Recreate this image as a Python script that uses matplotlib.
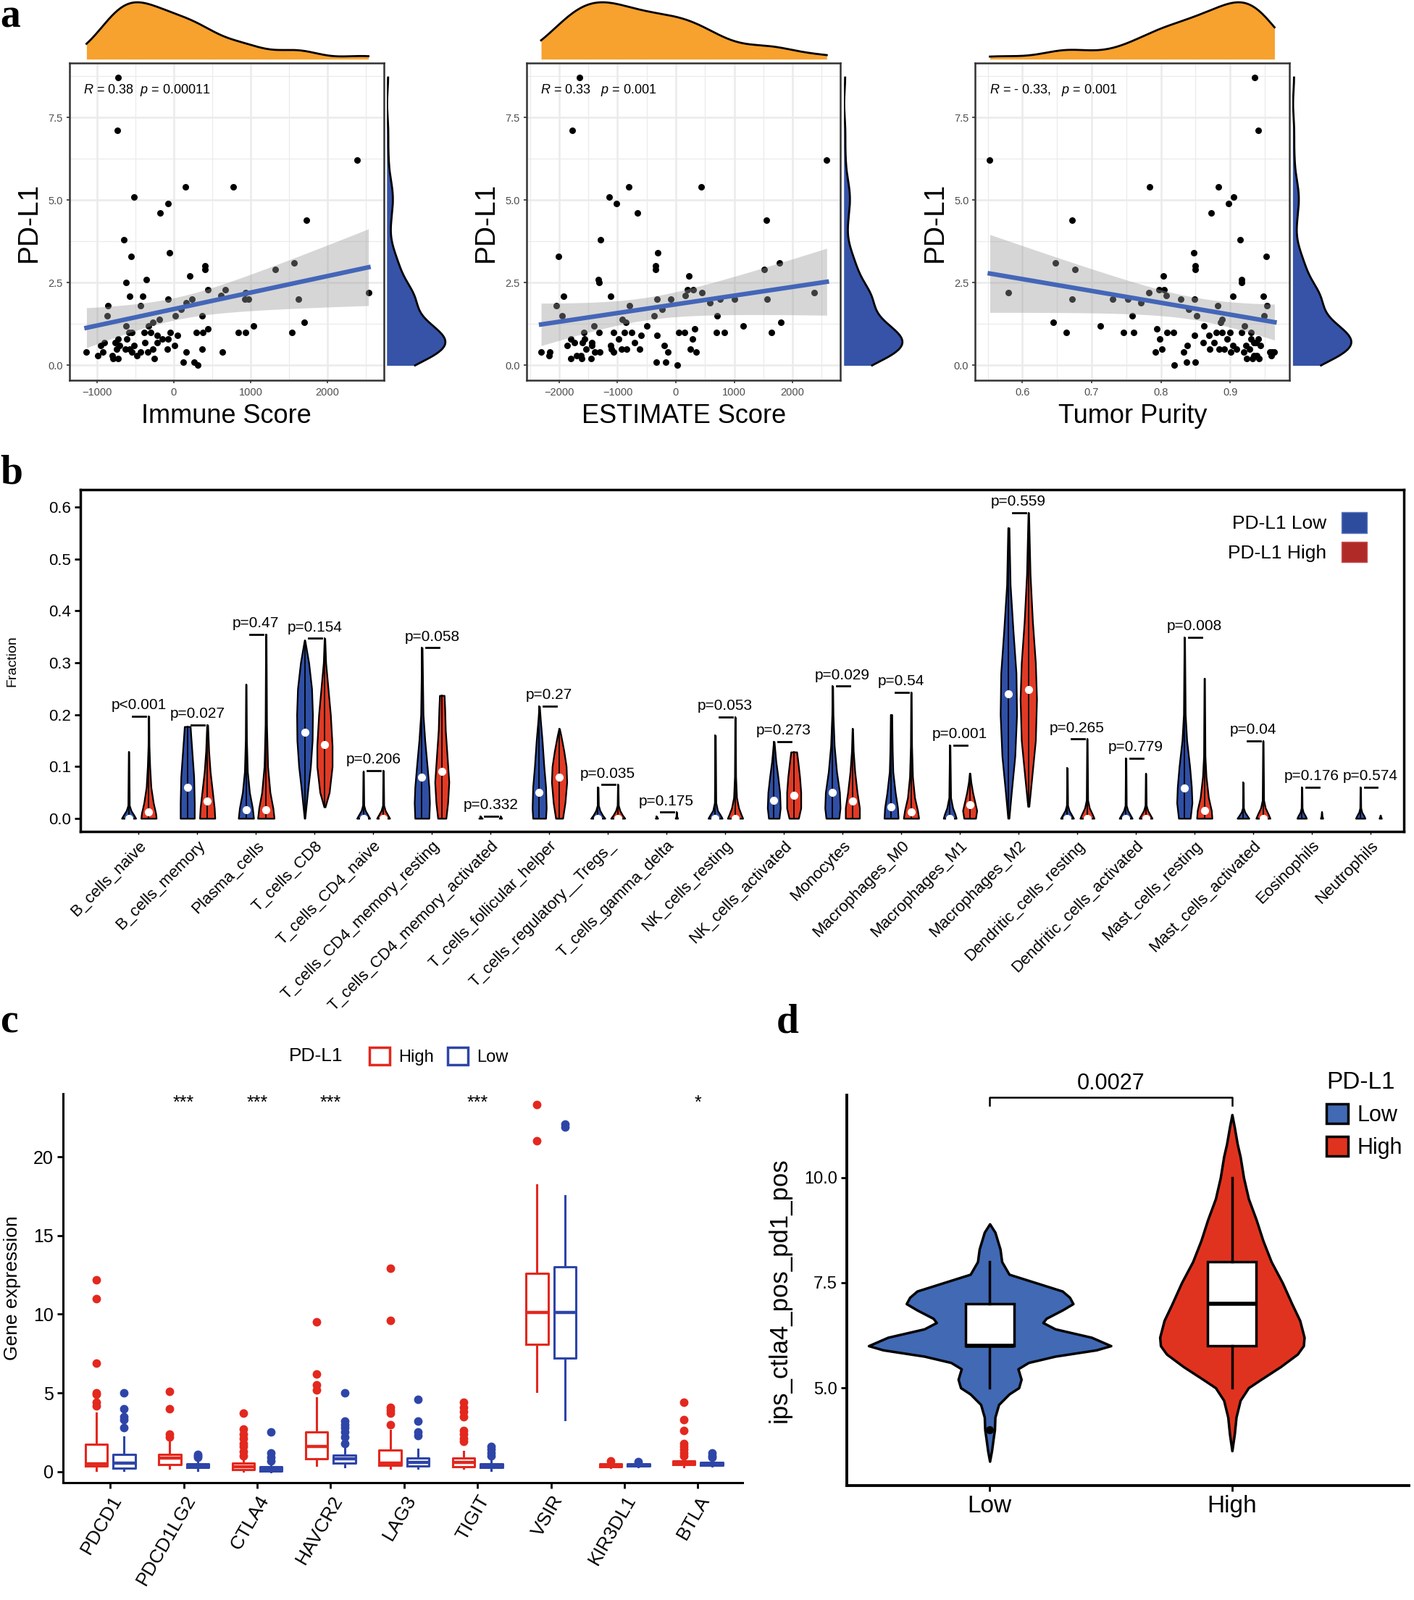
import numpy as np
import matplotlib
matplotlib.use('Agg')
import matplotlib.pyplot as plt
from matplotlib.patches import Patch

plt.rcParams['font.family'] = ['Liberation Sans', 'DejaVu Sans']
plt.rcParams['mathtext.fontset'] = 'custom'
plt.rcParams['mathtext.it'] = 'Liberation Sans:italic'
plt.rcParams['mathtext.rm'] = 'Liberation Sans'

# ---------------- panel a : PD-L1 vs ESTIMATE scores ----------------
pdl1 = [8.71, 7.11, 6.21, 5.40, 5.40, 5.10, 4.90, 4.61, 4.40, 3.80,
        3.30, 3.40, 3.10, 2.90, 3.01, 2.90, 2.70, 2.50, 2.60, 2.30,
        2.30, 2.10, 2.10, 2.12, 2.00, 2.00, 2.20, 2.00, 2.00, 2.00,
        2.20, 1.80, 1.80, 1.90, 1.50, 1.50, 1.50, 1.70, 1.39, 1.30,
        1.20, 1.20, 1.20, 1.30, 1.00, 1.00, 1.00, 1.00, 1.00, 1.10,
        1.00, 1.00, 1.00, 1.00, 1.00, 0.90, 0.90, 0.80, 0.80, 0.80,
        0.80, 0.70, 0.70, 0.70, 0.70, 0.60, 0.60, 0.60, 0.60, 0.50,
        0.50, 0.50, 0.50, 0.50, 0.50, 0.40, 0.40, 0.40, 0.40, 0.40,
        0.40, 0.40, 0.30, 0.30, 0.30, 0.20, 0.20, 0.20, 0.10, 0.10, 0.00]
immune_score = [-726, -730, 2386, 154, 776, -514, -73, -181, 1730, -653,
                -552, -58, 1564, 1320, 402, 402, 209, -625, -359, 444,
                668, -571, -405, 614, -77, 236, 938, 927, 973, 1622,
                2533, -857, -429, 162, -869, 19, 367, 97, -185, -274,
                -328, -618, 1035, 1699, 1533, 838, 931, 297, 382, 440,
                -50, -386, -297, -583, -544, -220, 46, -154, -73, -614,
                -722, -212, -371, -761, -907, -946, -703, 12, -514, -85,
                -270, 367, -633, -575, -741, -541, -429, -336, -919, -1135,
                166, 629, -985, -799, -479, -792, -726, -255, 124, 263, 309]
estimate_score = [-1645, -1779, 2587, -801, 435, -1140, -1022, -656, 1552, -1290,
                  -2010, -306, 1774, 1521, -347, -347, 224, -1320, -1331, 193,
                  296, -1928, -1115, 162, -317, -90, 445, 754, 1001, 1563,
                  2366, -2051, -790, 579, -1948, -373, 703, -234, -919, -852,
                  -1403, -502, 1160, 1799, 1635, 692, 836, 44, 147, 317,
                  -759, -1063, -883, -1320, -1573, -327, -600, -986, 286, -1562,
                  -1804, -708, -1444, -1732, -1600, -1861, -1444, -203, -1115, -615,
                  -934, 250, -1110, -847, -1537, -1300, -1393, -1063, -2309, -2155,
                  -131, 342, -2175, -1701, -1624, -1804, -1609, -1449, -337, -178, 28]
tumor_purity = [0.935, 0.941, 0.553, 0.784, 0.883, 0.905, 0.898, 0.873, 0.672, 0.914,
                0.952, 0.847, 0.648, 0.676, 0.850, 0.850, 0.803, 0.917, 0.917, 0.797,
                0.805, 0.904, 0.948, 0.808, 0.848, 0.829, 0.783, 0.752, 0.730, 0.672,
                0.580, 0.953, 0.882, 0.771, 0.949, 0.852, 0.759, 0.840, 0.888, 0.886,
                0.921, 0.862, 0.713, 0.645, 0.663, 0.746, 0.761, 0.809, 0.818, 0.794,
                0.880, 0.888, 0.900, 0.916, 0.930, 0.869, 0.848, 0.798, 0.896, 0.930,
                0.941, 0.861, 0.877, 0.937, 0.934, 0.838, 0.944, 0.904, 0.923, 0.801,
                0.870, 0.884, 0.891, 0.909, 0.928, 0.901, 0.920, 0.792, 0.833, 0.960,
                0.964, 0.957, 0.959, 0.934, 0.938, 0.924, 0.932, 0.942, 0.837, 0.850, 0.819]
score_labels = ['Immune Score', 'ESTIMATE Score', 'Tumor Purity']
cor_labels = [r'$R$ = 0.38  $p$ = 0.00011', r'$R$ = 0.33   $p$ = 0.001', r'$R$ = - 0.33,   $p$ = 0.001']

# ---------------- panel b : CIBERSORT fractions ----------------
cell_types = ['B_cells_naive', 'B_cells_memory', 'Plasma_cells', 'T_cells_CD8', 'T_cells_CD4_naive',
              'T_cells_CD4_memory_resting', 'T_cells_CD4_memory_activated', 'T_cells_follicular_helper',
              'T_cells_regulatory__Tregs_', 'T_cells_gamma_delta', 'NK_cells_resting', 'NK_cells_activated',
              'Monocytes', 'Macrophages_M0', 'Macrophages_M1', 'Macrophages_M2', 'Dendritic_cells_resting',
              'Dendritic_cells_activated', 'Mast_cells_resting', 'Mast_cells_activated', 'Eosinophils', 'Neutrophils']
p_values = ['p<0.001', 'p=0.027', 'p=0.47', 'p=0.154', 'p=0.206', 'p=0.058', 'p=0.332', 'p=0.27',
            'p=0.035', 'p=0.175', 'p=0.053', 'p=0.273', 'p=0.029', 'p=0.54', 'p=0.001', 'p=0.559',
            'p=0.265', 'p=0.779', 'p=0.008', 'p=0.04', 'p=0.176', 'p=0.574']
# violin outlines: fraction levels and half widths (category units)
low_y = [[0, 0.006, 0.015, 0.025, 0.128], [0, 0.03, 0.08, 0.12, 0.16, 0.177],
         [0, 0.02, 0.05, 0.09, 0.15, 0.258], [0, 0.05, 0.1, 0.15, 0.2, 0.25, 0.3, 0.343],
         [0, 0.006, 0.015, 0.025, 0.09], [0, 0.03, 0.06, 0.1, 0.15, 0.2, 0.329],
         [0, 0.002, 0.004], [0, 0.02, 0.06, 0.1, 0.15, 0.19, 0.216],
         [0, 0.006, 0.015, 0.025, 0.06], [0, 0.002, 0.004],
         [0, 0.006, 0.015, 0.03, 0.16], [0, 0.02, 0.05, 0.08, 0.11, 0.148],
         [0, 0.02, 0.05, 0.09, 0.14, 0.2, 0.255], [0, 0.02, 0.05, 0.09, 0.13, 0.17, 0.2],
         [0, 0.008, 0.02, 0.04, 0.141], [0, 0.05, 0.12, 0.2, 0.28, 0.36, 0.45, 0.56],
         [0, 0.006, 0.015, 0.025, 0.097], [0, 0.006, 0.015, 0.025, 0.116],
         [0, 0.03, 0.06, 0.1, 0.15, 0.2, 0.349], [0, 0.005, 0.012, 0.02, 0.069],
         [0, 0.005, 0.012, 0.02, 0.06], [0, 0.005, 0.012, 0.02, 0.06]]
low_w = [[0.12, 0.09, 0.04, 0.012, 0.004], [0.12, 0.12, 0.11, 0.085, 0.06, 0.05],
         [0.13, 0.11, 0.06, 0.025, 0.01, 0.004], [0.005, 0.05, 0.10, 0.13, 0.135, 0.12, 0.07, 0.005],
         [0.11, 0.08, 0.035, 0.01, 0.004], [0.12, 0.13, 0.12, 0.09, 0.05, 0.02, 0.004],
         [0.03, 0.01, 0.003], [0.11, 0.12, 0.11, 0.08, 0.05, 0.02, 0.004],
         [0.12, 0.08, 0.035, 0.01, 0.004], [0.02, 0.008, 0.003],
         [0.12, 0.09, 0.04, 0.012, 0.004], [0.09, 0.11, 0.1, 0.07, 0.035, 0.005],
         [0.11, 0.13, 0.12, 0.07, 0.03, 0.01, 0.004], [0.12, 0.11, 0.07, 0.03, 0.02, 0.015, 0.012],
         [0.11, 0.09, 0.05, 0.015, 0.004], [0.01, 0.05, 0.11, 0.14, 0.13, 0.08, 0.03, 0.01],
         [0.11, 0.08, 0.035, 0.01, 0.004], [0.11, 0.08, 0.035, 0.01, 0.004],
         [0.1, 0.13, 0.12, 0.09, 0.04, 0.015, 0.004], [0.1, 0.07, 0.03, 0.008, 0.004],
         [0.08, 0.06, 0.025, 0.008, 0.004], [0.08, 0.06, 0.025, 0.008, 0.004]]
high_y = [[0, 0.01, 0.03, 0.06, 0.10, 0.14, 0.197], [0, 0.02, 0.05, 0.09, 0.13, 0.18],
          [0, 0.02, 0.05, 0.1, 0.18, 0.355], [0.022, 0.05, 0.1, 0.14, 0.2, 0.25, 0.3, 0.347],
          [0, 0.006, 0.015, 0.025, 0.092], [0, 0.03, 0.07, 0.12, 0.17, 0.21, 0.237],
          [0, 0.002, 0.004], [0, 0.03, 0.07, 0.1, 0.13, 0.16, 0.173],
          [0, 0.006, 0.015, 0.025, 0.065], [0, 0.004, 0.012],
          [0, 0.008, 0.02, 0.04, 0.08, 0.195], [0, 0.02, 0.05, 0.08, 0.11, 0.128],
          [0, 0.02, 0.05, 0.09, 0.13, 0.173], [0, 0.015, 0.04, 0.08, 0.14, 0.243],
          [0, 0.015, 0.03, 0.05, 0.07, 0.087], [0.023, 0.08, 0.15, 0.23, 0.3, 0.38, 0.47, 0.589],
          [0, 0.008, 0.02, 0.035, 0.153], [0, 0.006, 0.015, 0.025, 0.086],
          [0, 0.015, 0.04, 0.08, 0.12, 0.27], [0, 0.008, 0.02, 0.035, 0.149],
          [0, 0.004, 0.012], [0, 0.003, 0.006]]
high_w = [[0.13, 0.12, 0.08, 0.04, 0.02, 0.008, 0.004], [0.13, 0.12, 0.09, 0.05, 0.025, 0.008],
          [0.14, 0.12, 0.07, 0.03, 0.012, 0.004], [0.01, 0.08, 0.13, 0.13, 0.1, 0.06, 0.02, 0.005],
          [0.11, 0.08, 0.035, 0.01, 0.004], [0.07, 0.1, 0.12, 0.09, 0.06, 0.05, 0.04],
          [0.02, 0.01, 0.003], [0.06, 0.1, 0.13, 0.12, 0.08, 0.03, 0.005],
          [0.12, 0.08, 0.035, 0.01, 0.004], [0.02, 0.006, 0.003],
          [0.13, 0.10, 0.06, 0.025, 0.01, 0.004], [0.08, 0.12, 0.12, 0.1, 0.07, 0.05],
          [0.12, 0.12, 0.08, 0.04, 0.015, 0.004], [0.13, 0.11, 0.06, 0.025, 0.01, 0.004],
          [0.1, 0.12, 0.09, 0.05, 0.02, 0.005], [0.01, 0.06, 0.12, 0.14, 0.12, 0.07, 0.03, 0.005],
          [0.12, 0.09, 0.04, 0.012, 0.004], [0.11, 0.08, 0.035, 0.01, 0.004],
          [0.13, 0.12, 0.07, 0.03, 0.012, 0.004], [0.12, 0.09, 0.04, 0.012, 0.004],
          [0.02, 0.008, 0.003], [0.02, 0.008, 0.003]]
nan = float('nan')
low_median = [0.0, 0.06, 0.017, 0.166, 0.0, 0.08, nan, 0.05, 0.0, nan, 0.0, 0.035,
              0.05, 0.022, 0.0, 0.24, 0.0, 0.0, 0.058, nan, nan, nan]
high_median = [0.013, 0.033, 0.017, 0.142, 0.0, 0.09, nan, 0.08, 0.0, nan, 0.0, 0.044,
               0.033, 0.013, 0.027, 0.248, 0.0, 0.0, 0.015, 0.0, nan, nan]

# ---------------- panel c : checkpoint genes ----------------
genes = ['PDCD1', 'PDCD1LG2', 'CTLA4', 'HAVCR2', 'LAG3', 'TIGIT', 'VSIR', 'KIR3DL1', 'BTLA']
signif = ['', '***', '***', '***', '', '***', '', '', '*']
high_q1 = [0.35, 0.45, 0.15, 0.8, 0.4, 0.3, 8.1, 0.3, 0.45]
high_med = [0.5, 0.85, 0.3, 1.6, 0.55, 0.6, 10.1, 0.4, 0.55]
high_q3 = [1.75, 1.1, 0.55, 2.5, 1.35, 0.85, 12.6, 0.5, 0.7]
high_lo = [0.1, 0.2, 0.05, 0.4, 0.2, 0.2, 5.1, 0.25, 0.3]
high_hi = [3.7, 1.9, 0.9, 4.7, 2.6, 1.3, 18.2, 0.6, 0.9]
high_out = [[4.2, 4.4, 4.9, 5.0, 6.9, 11.0, 12.2], [2.2, 2.4, 4.0, 5.1],
            [1.0, 1.3, 1.6, 1.8, 2.1, 2.4, 2.7, 3.7], [5.2, 5.5, 6.2, 9.5],
            [3.0, 3.7, 3.9, 4.1, 9.6, 12.9], [1.9, 2.1, 2.4, 2.6, 3.5, 3.8, 4.1, 4.4],
            [21.0, 23.3], [0.7], [1.0, 1.2, 1.4, 1.6, 1.8, 2.6, 3.3, 4.4]]
low_q1 = [0.2, 0.25, 0.05, 0.55, 0.35, 0.25, 7.2, 0.35, 0.4]
low_med = [0.55, 0.35, 0.15, 0.8, 0.6, 0.35, 10.1, 0.4, 0.5]
low_q3 = [1.1, 0.5, 0.3, 1.05, 0.85, 0.5, 13.0, 0.5, 0.6]
low_lo = [0.1, 0.1, 0.0, 0.3, 0.2, 0.1, 3.3, 0.3, 0.35]
low_hi = [2.2, 0.8, 0.5, 1.6, 1.4, 0.8, 17.5, 0.6, 0.8]
low_out = [[2.8, 3.3, 3.5, 4.0, 5.0], [0.9, 1.0, 1.1], [0.7, 0.9, 1.2, 2.5],
           [1.8, 2.2, 2.5, 2.8, 3.0, 3.2, 5.0], [2.3, 2.5, 3.2, 4.6], [1.0, 1.2, 1.4, 1.6],
           [21.9, 22.1], [0.65], [0.9, 1.0, 1.2]]

# ---------------- panel d : IPS score ----------------
ips_groups = ['Low', 'High']
ips_low_y = [3.25, 3.5, 3.8, 4.0, 4.3, 4.6, 4.85, 5.0, 5.2, 5.45, 5.6, 5.75, 5.9, 6.0,
             6.2, 6.4, 6.55, 6.65, 6.85, 7.0, 7.15, 7.3, 7.5, 7.7, 8.0, 8.3, 8.7, 8.9]
ips_low_w = [0, 0.008, 0.015, 0.02, 0.022, 0.037, 0.08, 0.12, 0.13, 0.117, 0.16, 0.27, 0.44, 0.50,
             0.42, 0.27, 0.22, 0.233, 0.30, 0.344, 0.33, 0.30, 0.19, 0.08, 0.05, 0.043, 0.022, 0]
ips_high_y = [3.5, 3.9, 4.3, 4.7, 5.0, 5.2, 5.5, 5.8, 6.0, 6.2, 6.6, 7.0, 7.5, 8.0, 8.5,
              9.0, 9.5, 10.0, 10.5, 10.8, 11.2, 11.5]
ips_high_w = [0, 0.01, 0.017, 0.034, 0.068, 0.12, 0.2, 0.27, 0.295, 0.298, 0.28, 0.247, 0.208,
              0.162, 0.128, 0.1, 0.068, 0.048, 0.034, 0.022, 0.01, 0]
ips_q1 = [6.0, 6.0]
ips_med = [6.0, 7.0]
ips_q3 = [7.0, 8.0]
ips_lo = [5.0, 5.0]
ips_hi = [8.0, 10.0]
ips_out = [[4.0], []]
ips_p = '0.0027'

W, H = 1386, 1568


def rect(l, t, r, b):
    return [l / W, 1 - b / H, (r - l) / W, (b - t) / H]


def kde(v, grid):
    v = np.asarray(v, float)
    n = len(v)
    iqr = np.percentile(v, 75) - np.percentile(v, 25)
    bw = 0.9 * min(v.std(ddof=1), iqr / 1.34) * n ** -0.2
    z = (grid[:, None] - v[None, :]) / bw
    return np.exp(-0.5 * z ** 2).sum(1) / (n * bw * np.sqrt(2 * np.pi))


fig = plt.figure(figsize=(19.52, 22.09), dpi=100)

# ---- panel a
a_left = [68, 516, 956]
a_xlim = [(-1358, 2730), (-2561, 2825), (0.532, 0.9857)]
a_major = [[-1000, 0, 1000, 2000], [-2000, -1000, 0, 1000, 2000], [0.6, 0.7, 0.8, 0.9]]
a_minor = [[-500, 500, 1500, 2500], [-2500, -1500, -500, 500, 1500, 2500], [0.55, 0.65, 0.75, 0.85, 0.95]]
ylim_a = (-0.46, 9.14)
for k, xv in enumerate([immune_score, estimate_score, tumor_purity]):
    l = a_left[k]
    r = l + 308
    ax = fig.add_axes(rect(l, 62, r, 373))
    x = np.array(xv, float)
    y = np.array(pdl1, float)
    for g in a_major[k]:
        ax.axvline(g, color='#EBEBEB', lw=1.8, zorder=0)
    for g in a_minor[k]:
        ax.axvline(g, color='#EBEBEB', lw=0.9, zorder=0)
    for g in [0, 2.5, 5, 7.5]:
        ax.axhline(g, color='#EBEBEB', lw=1.8, zorder=0)
    for g in [1.25, 3.75, 6.25, 8.75]:
        ax.axhline(g, color='#EBEBEB', lw=0.9, zorder=0)
    ax.scatter(x, y, s=42, color='black', zorder=2, linewidths=0)
    # linear fit with 95% band
    b1, b0 = np.polyfit(x, y, 1)
    xs = np.linspace(x.min(), x.max(), 100)
    n = len(x)
    resid = y - (b0 + b1 * x)
    s = np.sqrt((resid ** 2).sum() / (n - 2))
    se = s * np.sqrt(1 / n + (xs - x.mean()) ** 2 / ((x - x.mean()) ** 2).sum())
    fit = b0 + b1 * xs
    ax.fill_between(xs, fit - 1.99 * se, fit + 1.99 * se, color='#999999', alpha=0.4, lw=0, zorder=3)
    ax.plot(xs, fit, color='#4466B8', lw=4.5, zorder=4)
    ax.set_xlim(a_xlim[k])
    ax.set_ylim(ylim_a)
    ax.set_xticks(a_major[k])
    ax.set_yticks([0, 2.5, 5, 7.5])
    ax.tick_params(labelsize=10.5, colors='#4D4D4D', length=3, width=1.2)
    ax.tick_params(axis='both', color='#333333')
    for sp in ax.spines.values():
        sp.set_color('#333333')
        sp.set_linewidth(1.8)
    ax.set_xlabel(score_labels[k], fontsize=26, labelpad=6)
    ax.set_ylabel('PD-L1', fontsize=28, labelpad=6)
    ax.text(0.045, 0.905, cor_labels[k], transform=ax.transAxes, fontsize=13)
    # marginal densities
    axt = fig.add_axes(rect(l, 0, r, 58))
    gx = np.linspace(x.min(), x.max(), 300)
    dx = kde(x, gx)
    axt.fill_between(gx, 0, dx, color='#F7A12E', lw=0)
    axt.plot(gx, dx, color='black', lw=2)
    axt.set_xlim(a_xlim[k])
    axt.set_ylim(0, dx.max() * 1.04)
    axt.axis('off')
    axr = fig.add_axes(rect(r + 3, 62, r + 64, 373))
    gy = np.linspace(y.min(), y.max(), 300)
    dy = kde(y, gy)
    axr.fill_betweenx(gy, 0, dy, color='#3653A8', lw=0)
    axr.plot(dy, gy, color='black', lw=2)
    axr.set_ylim(ylim_a)
    axr.set_xlim(0, dy.max() * 1.06)
    axr.axis('off')

# ---- panel b
blue_b, red_b = '#2F4FA5', '#E23A24'
axb = fig.add_axes(rect(79, 480, 1376, 815))
for i in range(len(cell_types)):
    xc = i + 1
    for vy, vw, med, off, col in [(low_y[i], low_w[i], low_median[i], -0.17, blue_b),
                                  (high_y[i], high_w[i], high_median[i], 0.17, red_b)]:
        vy = np.array(vy)
        vw = np.array(vw)
        axb.fill_betweenx(vy, xc + off - vw, xc + off + vw, facecolor=col, edgecolor='black', lw=1.6, zorder=2)
        axb.plot([xc + off, xc + off], [vy[0], vy[-1]], color='black', lw=1.3, zorder=3)
        if not np.isnan(med):
            axb.plot(xc + off, med, 'o', mfc='white', mec='white', ms=7, zorder=4)
    top = max(low_y[i][-1], high_y[i][-1])
    axb.plot([xc - 0.1, xc + 0.12], [top, top], color='black', lw=2)
    axb.text(xc, top + 0.008, p_values[i], ha='center', va='bottom', fontsize=15)
axb.set_xlim(0.01, 22.57)
axb.set_ylim(-0.0256, 0.6335)
axb.set_yticks([0, 0.1, 0.2, 0.3, 0.4, 0.5, 0.6])
axb.set_yticklabels(['0.0', '0.1', '0.2', '0.3', '0.4', '0.5', '0.6'])
axb.set_xticks(range(1, len(cell_types) + 1))
axb.set_xticklabels(cell_types, rotation=45, ha='right', va='top', rotation_mode='anchor', fontsize=16)
axb.tick_params(axis='y', labelsize=16, length=6, width=2)
axb.tick_params(axis='x', length=3, width=1)
for sp in axb.spines.values():
    sp.set_linewidth(2.5)
axb.set_ylabel('Fraction', fontsize=14)
axb.yaxis.set_label_coords(-0.047, 0.5)
axb.legend(handles=[Patch(fc='#2E4C9E', ec='#5A78C0', lw=1), Patch(fc='#B02A28', ec='#C85050', lw=1)],
           labels=['PD-L1 Low', 'PD-L1 High'], loc='upper right', bbox_to_anchor=(0.985, 0.985),
           markerfirst=False, frameon=False, fontsize=19, handlelength=1.3, handleheight=1.3,
           labelspacing=0.45, handletextpad=0.8)

# ---- panel c
red_c, blue_c = '#E3281E', '#2E45A8'
axc = fig.add_axes(rect(62, 1072, 728, 1453))
pos = np.arange(1, len(genes) + 1)
for q1, md, q3, lo, hi, out, off, col in [(high_q1, high_med, high_q3, high_lo, high_hi, high_out, -0.19, red_c),
                                         (low_q1, low_med, low_q3, low_lo, low_hi, low_out, 0.19, blue_c)]:
    stats = [dict(q1=q1[j], med=md[j], q3=q3[j], whislo=lo[j], whishi=hi[j], fliers=out[j]) for j in range(len(genes))]
    axc.bxp(stats, positions=pos + off, widths=0.3, showcaps=False, manage_ticks=False,
            boxprops=dict(color=col, lw=2.2), whiskerprops=dict(color=col, lw=2.2),
            medianprops=dict(color=col, lw=3.2),
            flierprops=dict(marker='o', mfc=col, mec=col, ms=7.5))
for j, sg in enumerate(signif):
    if sg:
        axc.text(pos[j], 23.4, sg, ha='center', va='center', fontsize=18)
axc.set_xlim(0.36, 9.61)
axc.set_ylim(-0.7, 24.0)
axc.set_xticks(pos)
axc.set_xticklabels(genes, rotation=60, ha='right', va='top', rotation_mode='anchor', fontsize=19)
axc.set_yticks([0, 5, 10, 15, 20])
axc.tick_params(axis='y', labelsize=18, length=6, width=2)
axc.tick_params(axis='x', length=6, width=2)
for sp in ['top', 'right']:
    axc.spines[sp].set_visible(False)
for sp in ['left', 'bottom']:
    axc.spines[sp].set_linewidth(2.2)
axc.set_ylabel('Gene expression', fontsize=19)
axc.yaxis.set_label_coords(-0.062, 0.5)
fig.text(283 / W, 1 - 1035 / H, 'PD-L1', va='center', ha='left', fontsize=19)
fig.legend(handles=[Patch(fc='white', ec=red_c, lw=2.5), Patch(fc='white', ec=blue_c, lw=2.5)],
           labels=['High', 'Low'], ncol=2, loc='center left', bbox_to_anchor=(347 / W, 1 - 1035 / H),
           frameon=False, fontsize=17, handlelength=1.2, handleheight=1.2, columnspacing=0.8, handletextpad=0.5)

# ---- panel d
blue_d, red_d = '#4169B4', '#E0331F'
axd = fig.add_axes(rect(830, 1073, 1381, 1456))
for j, (vy, vw, col) in enumerate([(ips_low_y, ips_low_w, blue_d), (ips_high_y, ips_high_w, red_d)]):
    vy = np.array(vy)
    vw = np.array(vw)
    axd.fill_betweenx(vy, j + 1 - vw, j + 1 + vw, facecolor=col, edgecolor='black', lw=2.5, zorder=2)
stats_d = [dict(q1=ips_q1[j], med=ips_med[j], q3=ips_q3[j], whislo=ips_lo[j], whishi=ips_hi[j],
                fliers=ips_out[j]) for j in range(2)]
axd.bxp(stats_d, positions=[1, 2], widths=0.2, showcaps=False, patch_artist=True, manage_ticks=False,
        boxprops=dict(facecolor='white', edgecolor='black', lw=2.5),
        whiskerprops=dict(color='black', lw=2.5), medianprops=dict(color='black', lw=4),
        flierprops=dict(marker='o', mfc='black', mec='black', ms=7), zorder=3)
axd.plot([1, 1, 2, 2], [11.72, 11.92, 11.92, 11.72], color='black', lw=1.8)
axd.text(1.5, 11.98, ips_p, ha='center', va='bottom', fontsize=22)
axd.set_xlim(0.41, 2.73)
axd.set_ylim(2.67, 11.97)
axd.set_xticks([1, 2])
axd.set_xticklabels(ips_groups, fontsize=24)
axd.set_yticks([5.0, 7.5, 10.0])
axd.set_yticklabels(['5.0', '7.5', '10.0'])
axd.tick_params(axis='y', labelsize=17, length=6, width=2)
axd.tick_params(axis='x', length=6, width=2)
for sp in ['top', 'right']:
    axd.spines[sp].set_visible(False)
for sp in ['left', 'bottom']:
    axd.spines[sp].set_linewidth(2.8)
axd.set_ylabel('ips_ctla4_pos_pd1_pos', fontsize=25)
axd.yaxis.set_label_coords(-0.098, 0.5)
fig.legend(handles=[Patch(fc=blue_d, ec='black', lw=2.5), Patch(fc=red_d, ec='black', lw=2.5)],
           labels=['Low', 'High'], title='PD-L1', loc='upper left', bbox_to_anchor=(1300 / W, 1 - 1050 / H),
           frameon=False, fontsize=22, title_fontsize=24, handlelength=1.0, handleheight=1.0,
           handletextpad=0.4, labelspacing=0.45, alignment='left', borderpad=0, borderaxespad=0)

# panel letters
for lab, px, py in [('a', 10, 17), ('b', 11, 464), ('c', 9, 1002), ('d', 772, 1002)]:
    fig.text(px / W, 1 - py / H, lab, ha='center', va='center', fontsize=40, fontweight='bold',
             family=['Liberation Serif', 'DejaVu Serif'])

fig.savefig('out.png', dpi=100)
